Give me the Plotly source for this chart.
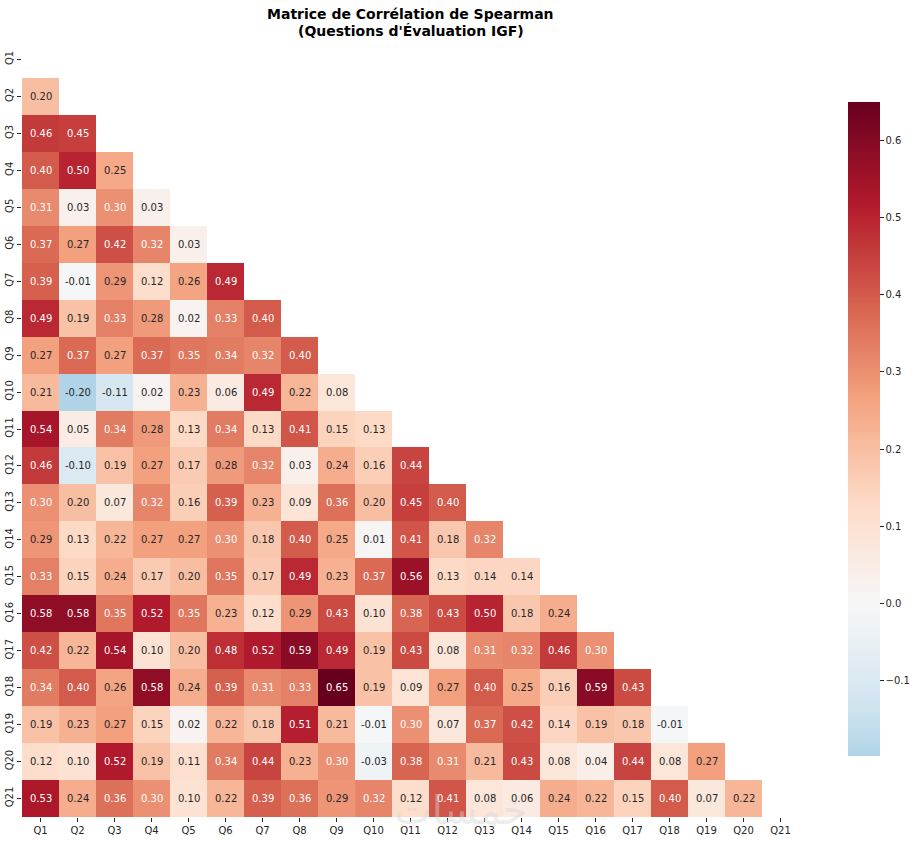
import numpy as np
import plotly.graph_objects as go

labels = [f"Q{i}" for i in range(1, 22)]

# Lower-triangle Spearman correlations (row i, columns 0..i-1)
lower_rows = [
    [],
    [0.20],
    [0.46, 0.45],
    [0.40, 0.50, 0.25],
    [0.31, 0.03, 0.30, 0.03],
    [0.37, 0.27, 0.42, 0.32, 0.03],
    [0.39, -0.01, 0.29, 0.12, 0.26, 0.49],
    [0.49, 0.19, 0.33, 0.28, 0.02, 0.33, 0.40],
    [0.27, 0.37, 0.27, 0.37, 0.35, 0.34, 0.32, 0.40],
    [0.21, -0.20, -0.11, 0.02, 0.23, 0.06, 0.49, 0.22, 0.08],
    [0.54, 0.05, 0.34, 0.28, 0.13, 0.34, 0.13, 0.41, 0.15, 0.13],
    [0.46, -0.10, 0.19, 0.27, 0.17, 0.28, 0.32, 0.03, 0.24, 0.16, 0.44],
    [0.30, 0.20, 0.07, 0.32, 0.16, 0.39, 0.23, 0.09, 0.36, 0.20, 0.45, 0.40],
    [0.29, 0.13, 0.22, 0.27, 0.27, 0.30, 0.18, 0.40, 0.25, 0.01, 0.41, 0.18, 0.32],
    [0.33, 0.15, 0.24, 0.17, 0.20, 0.35, 0.17, 0.49, 0.23, 0.37, 0.56, 0.13, 0.14, 0.14],
    [0.58, 0.58, 0.35, 0.52, 0.35, 0.23, 0.12, 0.29, 0.43, 0.10, 0.38, 0.43, 0.50, 0.18, 0.24],
    [0.42, 0.22, 0.54, 0.10, 0.20, 0.48, 0.52, 0.59, 0.49, 0.19, 0.43, 0.08, 0.31, 0.32, 0.46, 0.30],
    [0.34, 0.40, 0.26, 0.58, 0.24, 0.39, 0.31, 0.33, 0.65, 0.19, 0.09, 0.27, 0.40, 0.25, 0.16, 0.59, 0.43],
    [0.19, 0.23, 0.27, 0.15, 0.02, 0.22, 0.18, 0.51, 0.21, -0.01, 0.30, 0.07, 0.37, 0.42, 0.14, 0.19, 0.18, -0.01],
    [0.12, 0.10, 0.52, 0.19, 0.11, 0.34, 0.44, 0.23, 0.30, -0.03, 0.38, 0.31, 0.21, 0.43, 0.08, 0.04, 0.44, 0.08, 0.27],
    [0.53, 0.24, 0.36, 0.30, 0.10, 0.22, 0.39, 0.36, 0.29, 0.32, 0.12, 0.41, 0.08, 0.06, 0.24, 0.22, 0.15, 0.40, 0.07, 0.22],
]

colorbar_ticks = [-0.1, 0.0, 0.1, 0.2, 0.3, 0.4, 0.5, 0.6]
zmin, zmax = -0.198, 0.650

n = len(labels)
z = [[None] * n for _ in range(n)]
for i, row in enumerate(lower_rows):
    for j, v in enumerate(row):
        z[i][j] = v

# matplotlib RdBu_r base colours
rdbu = ["#053061", "#2166ac", "#4393c3", "#92c5de", "#d1e5f0", "#f7f7f7",
        "#fddbc7", "#f4a582", "#d6604d", "#b2182b", "#67001f"]
rdbu_rgb = np.array([[int(c[k:k + 2], 16) / 255 for k in (1, 3, 5)] for c in rdbu])
pos = np.linspace(0, 1, len(rdbu))


def cmap(t):
    return np.array([np.interp(t, pos, rdbu_rgb[:, k]) for k in range(3)])


# seaborn "center=0" resampling
vrange = max(zmax, -zmin)
cmin = (zmin + vrange) / (2 * vrange)
cmax = (zmax + vrange) / (2 * vrange)


def colour_at(v):
    t = (v - zmin) / (zmax - zmin)
    return cmap(cmin + t * (cmax - cmin))


stops = np.linspace(0, 1, 41)
colorscale = []
for s in stops:
    r, g, b = cmap(cmin + s * (cmax - cmin))
    colorscale.append([float(s), f"rgb({r*255:.1f},{g*255:.1f},{b*255:.1f})"])


def lum(rgb):
    rgb = np.where(rgb <= .03928, rgb / 12.92, ((rgb + .055) / 1.055) ** 2.4)
    return float(rgb.dot([.2126, .7152, .0722]))


W, H = 919, 841
L, R, T, B = 22, 919 - 799, 41, 841 - 817
pw, ph = W - L - R, H - T - B

fig = go.Figure()
fig.add_trace(go.Heatmap(
    z=z, x=labels, y=labels, zmin=zmin, zmax=zmax, colorscale=colorscale,
    hoverongaps=False, xgap=0, ygap=0,
    colorbar=dict(
        x=(848 - L) / pw, xanchor="left", xpad=0, y=1 - (102 - T) / ph, yanchor="top",
        len=654 / ph, lenmode="fraction", thickness=32, thicknessmode="pixels",
        outlinewidth=0, tickvals=colorbar_ticks,
        ticktext=[("−" if t < 0 else "") + f"{abs(t):.1f}" for t in colorbar_ticks],
        ticks="outside", ticklen=4, tickwidth=1, tickcolor="#262626",
        tickfont=dict(family="DejaVu Sans", size=10, color="#262626"), ypad=0,
    ),
))

annotations = []
for i, row in enumerate(lower_rows):
    for j, v in enumerate(row):
        c = "#262626" if lum(colour_at(v)) > 0.408 else "#ffffff"
        annotations.append(dict(
            x=labels[j], y=labels[i], text=f"{v:.2f}", showarrow=False,
            font=dict(family="DejaVu Sans", size=10, color=c), xref="x", yref="y"))

# title lines (screen y of line centres: 14 and 31)
for txt, yc in [("Matrice de Corrélation de Spearman", 14), ("(Questions d'Évaluation IGF)", 31)]:
    annotations.append(dict(
        x=0.5, y=1 + (T - yc) / ph, xref="paper", yref="paper", text=f"<b>{txt}</b>",
        showarrow=False, xanchor="center", yanchor="middle",
        font=dict(family="DejaVu Sans", size=14, color="black")))

# faint watermark
annotations.append(dict(
    x=(460 - L) / pw, y=1 - (810 - T) / ph, xref="paper", yref="paper", text="خمسات",
    showarrow=False, xanchor="center", yanchor="middle",
    font=dict(family="DejaVu Sans", size=40, color="rgba(215,215,215,0.45)")))

fig.update_layout(
    width=W, height=H,
    margin=dict(l=L, r=R, t=T, b=B, autoexpand=False),
    paper_bgcolor="white", plot_bgcolor="white",
    xaxis=dict(type="category", showgrid=False, zeroline=False, showline=False,
               automargin=False, ticks="outside", ticklen=4, tickcolor="#262626",
               tickfont=dict(family="DejaVu Sans", size=10, color="#262626")),
    yaxis=dict(type="category", autorange="reversed", showgrid=False, zeroline=False,
               showline=False, automargin=False, ticks="outside", ticklen=4,
               tickcolor="#262626", tickangle=-90,
               tickfont=dict(family="DejaVu Sans", size=10, color="#262626")),
    annotations=annotations,
)

fig.write_html("out.html", config={"displayModeBar": False},
               post_script="document.body.style.margin='0';")
